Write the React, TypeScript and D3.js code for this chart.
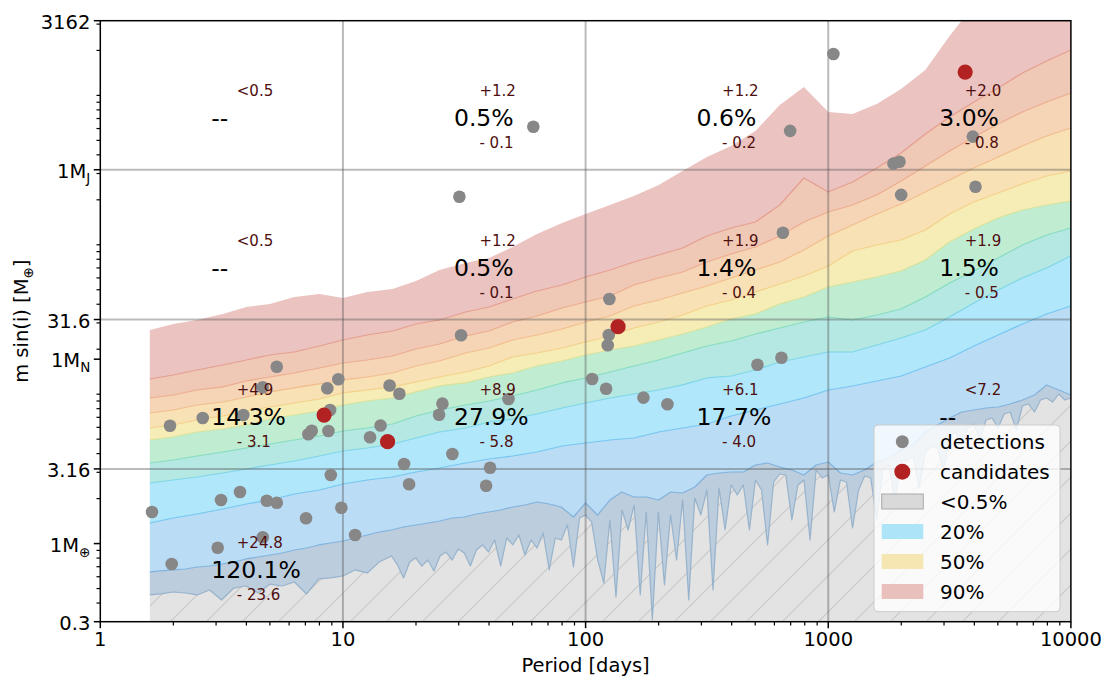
import React from "react";
import * as d3 from "d3";

// ---------- sampling grids (orbital period, days) ----------
const PERIOD_GRID = [1.6, 2, 2.5, 3.2, 4, 5, 6.3, 8, 10, 12.6, 16, 20, 25, 32, 40, 50, 63, 80, 100, 126, 158, 200, 251, 316, 398, 501, 631, 794, 1000, 1259, 1585, 1995, 2512, 3162, 3981, 5012, 6310, 7943, 10000];

const PERIOD_FINE = [1.6, 1.78, 2.0, 2.24, 2.51, 2.82, 3.16, 3.55, 3.98, 4.47, 5.01, 5.62, 6.31, 7.08, 7.94, 8.91,
  10, 11.2, 12.6, 14.1, 15.8, 17.8, 20, 22.4, 25.1, 28.2, 31.6, 35.5, 39.8, 44.7, 50.1, 56.2, 63.1, 70.8, 79.4, 89.1,
  100, 112, 126, 141, 158, 178, 200, 224, 251, 282, 316, 355, 398, 447, 501, 562, 631, 708, 794, 891,
  1000, 1122, 1259, 1413, 1585, 1778, 1995, 2239, 2512, 2818, 3162, 3548, 3981, 4467, 5012, 5623, 6310, 7079, 7943, 8913, 10000];

// denser sampling for the spiky 0.5 % contour
const PERIOD_EDGE = [1.6, 1.78, 2.0, 2.24, 2.51, 2.82, 3.16, 3.55, 3.98, 4.47, 5.01, 5.62, 6.31, 7.08, 7.94, 8.91, 10, 11.2, 12.6, 14.1,
  15.85, 16.79, 17.78, 18.84, 19.95, 21.13, 22.39, 23.71, 25.12, 26.61, 28.18, 29.85, 31.62, 33.50, 35.48, 37.58, 39.81, 42.17, 44.67, 47.32,
  50.12, 53.09, 56.23, 59.57, 63.10, 66.83, 70.79, 74.99, 79.43, 84.14, 89.13, 94.41,
  100, 105.9, 112.2, 118.9, 125.9, 133.4, 141.3, 149.6, 158.5, 167.9, 177.8, 188.4, 199.5, 211.3, 223.9, 237.1, 251.2, 266.1, 281.8, 298.5,
  316.2, 335.0, 354.8, 375.8, 398.1, 421.7, 446.7, 473.2, 501.2, 530.9, 562.3, 595.7, 631.0, 668.3, 707.9, 749.9, 794.3, 841.4, 891.3, 944.1,
  1000, 1059, 1122, 1189, 1259, 1334, 1413, 1496, 1585, 1679, 1778, 1884, 1995, 2113, 2239, 2371, 2512, 2661, 2818, 2985,
  3162, 3350, 3548, 3758, 3981, 4217, 4467, 4732, 5012, 5309, 5623, 5957, 6310, 6683, 7079, 7499, 7943, 8414, 8913, 9441, 10000];

// ---------- detection-probability contours (m sin i, Earth masses) ----------
// 0.5 % contour (PERIOD_EDGE)
const MASS_P005 = [0.453, 0.460, 0.474, 0.467, 0.453, 0.489, 0.419, 0.504, 0.520, 0.467,
  0.536, 0.520, 0.553, 0.460, 0.580, 0.589, 0.607, 0.666, 0.636, 0.752,
  0.826, 0.718, 0.589, 0.752, 0.801, 0.707, 0.776, 0.656, 0.826, 0.878,
  0.776, 0.920, 0.865, 0.707, 0.906, 0.979, 0.878, 1.057, 0.707, 1.090,
  0.979, 1.142, 0.839, 1.057, 0.934, 1.177, 0.666, 1.090, 1.057, 1.331,
  0.697, 1.483, 1.553, 1.394, 0.776, 0.544, 1.438, 0.439, 1.678, 1.233,
  1.812, 0.453, 1.627, 0.308, 1.627, 0.528, 1.553, 0.776, 1.957, 0.419,
  2.019, 1.553, 2.284, 0.489, 2.356, 1.233, 2.467, 2.115, 2.467, 1.233,
  2.665, 2.284, 0.979, 2.584, 2.923, 2.878, 1.438, 2.467, 2.665, 1.057,
  3.109, 2.748, 2.878, 1.627, 2.665, 2.584, 1.271, 2.284, 2.834, 2.748,
  1.438, 3.109, 3.358, 1.957, 3.517, 3.627, 3.857, 2.356, 4.102, 4.500,
  4.363, 3.109, 5.250, 5.583, 4.570, 5.939, 6.316, 4.936, 6.718, 6.928,
  5.939, 7.368, 7.599, 5.758, 8.336, 8.596, 7.599, 9.143, 9.432, 8.865,
  10.03, 9.143, 9.432];
// 10 % contour (PERIOD_FINE)
const MASS_P10 = [0.646, 0.656, 0.666, 0.676, 0.697, 0.708, 0.730, 0.752, 0.789, 0.813,
  0.839, 0.865, 0.906, 0.934, 0.979, 1.009, 1.041, 1.090, 1.142, 1.196,
  1.233, 1.291, 1.331, 1.373, 1.416, 1.483, 1.506, 1.578, 1.627, 1.678,
  1.757, 1.812, 1.898, 1.840, 1.757, 1.506, 1.869, 1.553, 1.957, 2.215,
  2.050, 2.050, 1.957, 2.215, 2.181, 2.392, 2.878, 2.968, 3.015, 3.015,
  3.358, 3.463, 3.256, 3.109, 2.878, 3.358, 3.517, 2.968, 2.878, 3.109,
  3.517, 3.740, 4.231, 4.570, 5.583, 6.220, 6.928, 7.599, 7.837, 8.082,
  8.208, 8.596, 9.143, 9.878, 11.53, 10.67, 9.878];
// 20 % ... 90 % contours and outer edge (PERIOD_GRID)
const MASS_P20 = [1.373, 1.483, 1.578, 1.704, 1.840, 1.957, 2.147, 2.284, 2.506, 2.665, 2.791, 3.015, 3.206, 3.463, 3.683, 3.857, 4.102, 4.500, 4.713, 4.936, 5.090, 5.583, 5.939, 6.316, 7.145, 7.837, 8.596, 9.432, 10.67, 11.35, 12.26, 13.24, 15.21, 17.47, 21.01, 24.89, 29.49, 34.41, 38.93];
const MASS_P30 = [2.545, 2.665, 2.791, 2.968, 3.157, 3.358, 3.571, 3.857, 4.166, 4.363, 4.641, 5.090, 5.583, 5.939, 6.514, 6.822, 7.368, 8.082, 8.730, 9.432, 10.03, 10.67, 11.53, 12.84, 13.24, 14.52, 16.43, 17.74, 19.16, 19.16, 21.34, 23.77, 26.89, 32.86, 40.77, 49.82, 59.94, 69.92, 84.13];
const MASS_P40 = [3.463, 3.627, 3.857, 4.102, 4.363, 4.641, 4.936, 5.250, 5.670, 5.939, 6.316, 7.145, 7.837, 8.465, 9.003, 9.728, 10.67, 11.89, 12.84, 14.08, 15.44, 16.94, 18.87, 21.01, 22.70, 25.28, 27.73, 30.42, 32.86, 31.37, 33.88, 37.17, 44.72, 55.49, 66.77, 81.58, 99.71, 116.3, 129.5];
const MASS_P50 = [4.936, 5.169, 5.583, 5.848, 6.220, 6.822, 7.256, 7.717, 8.465, 9.003, 9.432, 10.35, 11.35, 11.89, 13.03, 13.86, 15.44, 16.68, 18.29, 19.76, 21.01, 23.05, 25.28, 28.16, 31.86, 34.41, 40.15, 44.72, 52.17, 56.35, 60.87, 66.77, 79.10, 104.4, 127.5, 151.1, 170.9, 184.6, 196.3];
const MASS_P60 = [5.939, 6.220, 6.718, 7.145, 7.717, 8.208, 8.730, 9.288, 10.19, 10.67, 11.18, 12.07, 13.03, 14.08, 15.44, 17.74, 18.87, 20.38, 22.35, 24.52, 27.73, 30.42, 33.88, 38.93, 42.70, 48.31, 54.65, 61.82, 72.12, 90.87, 99.71, 107.7, 125.6, 160.7, 193.3, 222.1, 255.2, 288.6, 311.8];
const MASS_P70 = [7.483, 7.837, 8.465, 8.865, 9.578, 10.35, 11.01, 11.71, 12.45, 13.03, 13.86, 15.44, 16.68, 18.87, 20.38, 23.05, 24.89, 27.31, 30.42, 33.37, 38.93, 42.70, 47.57, 52.99, 59.94, 67.81, 76.70, 92.28, 114.5, 135.6, 160.7, 187.5, 225.5, 271.4, 326.5, 386.8, 458.3, 534.7, 604.9];
const MASS_P80 = [9.432, 9.878, 10.67, 11.18, 12.26, 13.03, 13.86, 14.97, 16.17, 16.94, 18.02, 20.07, 21.67, 24.52, 26.48, 30.42, 33.37, 37.75, 41.40, 45.42, 53.81, 59.94, 65.75, 76.70, 86.76, 96.68, 114.5, 142.0, 165.7, 184.6, 215.3, 267.2, 336.8, 424.3, 526.5, 643.4, 774.0, 903.0, 1038];
const MASS_P90 = [12.64, 13.44, 14.52, 15.68, 16.94, 18.29, 19.16, 21.01, 23.05, 24.89, 26.48, 29.49, 31.37, 35.49, 38.33, 43.37, 49.06, 53.81, 60.87, 67.81, 76.70, 85.43, 95.21, 114.5, 129.5, 142.0, 184.6, 279.9, 225.5, 263.2, 326.5, 411.4, 551.4, 716.6, 903.0, 1121, 1412, 1700, 2013];
const MASS_EDGE = [26.89, 29.49, 31.37, 34.41, 38.33, 40.15, 44.72, 46.84, 44.04, 48.31, 50.59, 57.23, 67.81, 75.53, 81.58, 96.68, 118.1, 139.9, 160.7, 184.6, 212.1, 251.3, 311.8, 386.8, 458.3, 577.5, 862.2, 1138, 774.0, 750.6, 875.6, 1104, 1479, 2498, 4028, 5000, 6000, 7000, 8000];

// ---------- planets ----------
const DETECT_PERIOD = [1.633, 1.969, 1.938, 2.643, 3.144, 3.047, 3.765, 3.886, 4.671, 4.671, 4.852, 5.335, 5.335, 7.045, 7.20, 7.437, 8.62, 8.71, 8.85, 8.91, 9.57, 9.85, 11.22, 12.93, 14.29, 15.57, 17.08, 17.86, 18.73, 24.9, 25.7, 28.25, 30.19, 30.68, 38.9, 40.4, 48.1, 60.9, 106.4, 121.5, 123.4, 124.6, 125.3, 173.1, 217.4, 510.7, 641.4, 650, 696.6, 1050, 1856, 1966, 1998, 3945, 4044];
const DETECT_MASS = [1.627, 0.730, 6.15, 6.93, 1.957, 0.938, 2.214, 7.25, 11.12, 1.102, 1.936, 1.877, 15.27, 1.476, 5.39, 5.69, 10.95, 5.67, 7.84, 2.877, 12.58, 1.739, 1.141, 5.145, 6.17, 11.43, 10.07, 3.41, 2.494, 7.29, 8.64, 3.98, 209.8, 24.8, 2.44, 3.22, 9.28, 617, 12.64, 10.88, 21.24, 24.9, 43.4, 9.49, 8.57, 15.73, 17.52, 120.4, 579, 1892, 349.4, 359.8, 215.8, 530, 244.4];
const CAND_PERIOD = [8.36, 15.27, 136.1, 3667];
const CAND_MASS = [7.25, 4.81, 28.3, 1432];

// ---------- axes ----------
const X_TICKS = [1, 10, 100, 1000, 10000];
const Y_TICKS = [0.3, 1, 3.16, 17.15, 31.6, 317.8, 3162];
const Y_TICK_TEXT = [["0.3", ""], ["1M", "\u2295"], ["3.16", ""], ["1M", "N"], ["31.6", ""], ["1M", "J"], ["3162", ""]];
const GRID_PERIODS = [10, 100, 1000];
const GRID_MASSES = [3.16, 31.6, 317.8];

// ---------- occurrence rates per period/mass cell ----------
const RATE_DECADES = [1, 10, 100, 1000];
const RATE_ROW_FLOORS = [0.3, 3.16, 31.6, 317.8];
// [column, row, rate, upper error, lower error]
const RATE_CELLS: [number, number, string, string, string][] = [
  [0, 0, "120.1%", "+24.8", "- 23.6"],
  [0, 1, "14.3%", "+4.9", "- 3.1"],
  [0, 2, "--", "<0.5", ""],
  [0, 3, "--", "<0.5", ""],
  [1, 1, "27.9%", "+8.9", "- 5.8"],
  [1, 2, "0.5%", "+1.2", "- 0.1"],
  [1, 3, "0.5%", "+1.2", "- 0.1"],
  [2, 1, "17.7%", "+6.1", "- 4.0"],
  [2, 2, "1.4%", "+1.9", "- 0.4"],
  [2, 3, "0.6%", "+1.2", "- 0.2"],
  [3, 1, "--", "<7.2", ""],
  [3, 2, "1.5%", "+1.9", "- 0.5"],
  [3, 3, "3.0%", "+2.0", "- 0.8"],
];

const LEGEND_LABELS = ["detections", "candidates", "<0.5%", "20%", "50%", "90%"];

const W = 1106;
const H = 677;
const PLOT = { left: 100.3, right: 1070.9, top: 20.7, bottom: 621.7 };
const FONT = "DejaVu Sans, Verdana, sans-serif";

export default function App() {
  const x = d3.scaleLog().domain([1, 10000]).range([PLOT.left, PLOT.right]);
  const y = d3.scaleLog().domain([0.3, 3162]).range([PLOT.bottom, PLOT.top]);

  const pts = (ps: number[], ms: number[]): [number, number][] =>
    ps.map((p, i) => [x(p), y(ms[i])] as [number, number]);
  const line = d3.line();

  const c005 = pts(PERIOD_EDGE, MASS_P005);
  const c10 = pts(PERIOD_FINE, MASS_P10);
  const coarse = [MASS_P20, MASS_P30, MASS_P40, MASS_P50, MASS_P60, MASS_P70, MASS_P80, MASS_P90, MASS_EDGE].map((m) =>
    pts(PERIOD_GRID, m)
  );
  const [c20, c30, c40, c50, c60, c70, c80, c90, cEdge] = coarse;

  const band = (lower: [number, number][], upper: [number, number][]) =>
    (line([...upper, ...lower.slice().reverse()]) as string) + "Z";

  const bands = [
    { lo: c005, hi: c10, fill: "#bccddd" },
    { lo: c10, hi: c20, fill: "#badcf5" },
    { lo: c20, hi: c30, fill: "#b1e7fb" },
    { lo: c30, hi: c40, fill: "#b5e8e2" },
    { lo: c40, hi: c50, fill: "#c0ecd2" },
    { lo: c50, hi: c60, fill: "#f6ecb6" },
    { lo: c60, hi: c70, fill: "#f8e1b4" },
    { lo: c70, hi: c80, fill: "#f5d5b6" },
    { lo: c80, hi: c90, fill: "#f0c9b6" },
    { lo: c90, hi: cEdge, fill: "#ebc3c0" },
  ];
  const edges = [
    { p: c005, stroke: "#88a9c6" },
    { p: c10, stroke: "#6fa8d8" },
    { p: c20, stroke: "#62bdef" },
    { p: c30, stroke: "#6cd0e6" },
    { p: c40, stroke: "#74d7b8" },
    { p: c50, stroke: "#cfe08e" },
    { p: c60, stroke: "#f2cb7a" },
    { p: c70, stroke: "#f0b47e" },
    { p: c80, stroke: "#eaa07f" },
    { p: c90, stroke: "#e2917f" },
  ];

  const floorY = y(0.3);
  const greyPath =
    (line(c005) as string) +
    `L${x(PERIOD_EDGE[PERIOD_EDGE.length - 1])},${floorY}L${x(PERIOD_EDGE[0])},${floorY}Z`;

  const xMinor = x.ticks().filter((t) => !X_TICKS.includes(t));
  const yMinor = y.ticks().filter((t) => !Y_TICKS.some((m) => Math.abs(m - t) / t < 1e-6));

  const tickFs = 19.5;
  const bigFs = 23.5;
  const smallFs = 15;
  const errColor = "#4f0f0f";

  return (
    <svg
      width={W}
      height={H}
      style={{ position: "absolute", left: 0, top: 0, display: "block" }}
      fontFamily={FONT}
    >
      <defs>
        <clipPath id="plotClip">
          <rect x={PLOT.left} y={PLOT.top} width={PLOT.right - PLOT.left} height={PLOT.bottom - PLOT.top} />
        </clipPath>
        <pattern id="hatch" patternUnits="userSpaceOnUse" width="36" height="36">
          <path d="M-9,9L9,-9M0,36L36,0M27,45L45,27" stroke="#c7c7c7" strokeWidth="1.1" />
        </pattern>
      </defs>
      <rect x={0} y={0} width={W} height={H} fill="#ffffff" />

      <g clipPath="url(#plotClip)">
        {/* region below the 0.5 % sensitivity contour */}
        <path d={greyPath} fill="#e3e3e3" />
        <path d={greyPath} fill="url(#hatch)" />
        {bands.map((b, i) => (
          <path key={"b" + i} d={band(b.lo, b.hi)} fill={b.fill} />
        ))}
        {edges.map((e, i) => (
          <path
            key={"e" + i}
            d={line(e.p) as string}
            fill="none"
            stroke={e.stroke}
            strokeOpacity={0.8}
            strokeWidth={1.2}
            strokeLinejoin="round"
          />
        ))}

        {/* grid */}
        {GRID_PERIODS.map((p) => (
          <line key={"gx" + p} x1={x(p)} x2={x(p)} y1={PLOT.top} y2={PLOT.bottom} stroke="#555" strokeOpacity={0.4} strokeWidth={2} />
        ))}
        {GRID_MASSES.map((m) => (
          <line key={"gy" + m} x1={PLOT.left} x2={PLOT.right} y1={y(m)} y2={y(m)} stroke="#555" strokeOpacity={0.4} strokeWidth={2} />
        ))}

        {/* planets */}
        {DETECT_PERIOD.map((p, i) => (
          <circle key={"d" + i} cx={x(p)} cy={y(DETECT_MASS[i])} r={6.3} fill="#878787" />
        ))}
        {CAND_PERIOD.map((p, i) => (
          <circle key={"c" + i} cx={x(p)} cy={y(CAND_MASS[i])} r={7.6} fill="#b22222" />
        ))}
      </g>

      {/* occurrence rates */}
      {RATE_CELLS.map(([c, r, rate, up, down], i) => {
        const x0 = x(RATE_DECADES[c]);
        const yFloor = y(RATE_ROW_FLOORS[r]);
        return (
          <g key={"rate" + i}>
            <text x={x0 + 111} y={yFloor - 43.5} fontSize={bigFs} fill="#000">
              {rate}
            </text>
            <text x={x0 + 136.5} y={yFloor - 73.5} fontSize={smallFs} fill={errColor}>
              {up}
            </text>
            {down && (
              <text x={x0 + 136.5} y={yFloor - 21.5} fontSize={smallFs} fill={errColor}>
                {down}
              </text>
            )}
          </g>
        );
      })}

      {/* axes frame */}
      <rect
        x={PLOT.left}
        y={PLOT.top}
        width={PLOT.right - PLOT.left}
        height={PLOT.bottom - PLOT.top}
        fill="none"
        stroke="#000"
        strokeWidth={1.5}
      />

      {/* x axis */}
      {X_TICKS.map((t) => (
        <g key={"xt" + t}>
          <line x1={x(t)} x2={x(t)} y1={PLOT.bottom} y2={PLOT.bottom + 6.5} stroke="#000" strokeWidth={1.5} />
          <text x={x(t)} y={PLOT.bottom + 24} fontSize={tickFs} textAnchor="middle">
            {String(t)}
          </text>
        </g>
      ))}
      {xMinor.map((t) => (
        <line key={"xm" + t} x1={x(t)} x2={x(t)} y1={PLOT.bottom} y2={PLOT.bottom + 3.8} stroke="#000" strokeWidth={1.2} />
      ))}
      <text x={(PLOT.left + PLOT.right) / 2} y={672} fontSize={tickFs} textAnchor="middle">
        Period [days]
      </text>

      {/* y axis */}
      {Y_TICKS.map((t, i) => (
        <g key={"yt" + t}>
          <line x1={PLOT.left - 6.5} x2={PLOT.left} y1={y(t)} y2={y(t)} stroke="#000" strokeWidth={1.5} />
          <text x={PLOT.left - 10} y={y(t) + 8} fontSize={tickFs} textAnchor="end">
            {Y_TICK_TEXT[i][0]}
            {Y_TICK_TEXT[i][1] && (
              <tspan fontSize={13.5} dy={5}>
                {Y_TICK_TEXT[i][1]}
              </tspan>
            )}
          </text>
        </g>
      ))}
      {yMinor.map((t) => (
        <line key={"ym" + t} x1={PLOT.left - 3.8} x2={PLOT.left} y1={y(t)} y2={y(t)} stroke="#000" strokeWidth={1.2} />
      ))}
      <text
        transform={`translate(28,${(PLOT.top + PLOT.bottom) / 2}) rotate(-90)`}
        fontSize={tickFs}
        textAnchor="middle"
      >
        m sin(i) [M
        <tspan fontSize={13.5} dy={5}>
          {"\u2295"}
        </tspan>
        <tspan dy={-5}>]</tspan>
      </text>

      {/* legend */}
      <g>
        <rect x={874} y={425} width={186} height={186.7} rx={4} fill="#ffffff" fillOpacity={0.8} stroke="#cccccc" strokeWidth={1} />
        <circle cx={902.3} cy={441.7} r={6.5} fill="#878787" />
        <circle cx={902.3} cy={471.7} r={8} fill="#b22222" />
        <rect x={881.7} y={494} width={41.6} height={15} fill="#d9d9d9" stroke="#a9a9a9" strokeWidth={1} />
        <rect x={881.7} y={524} width={41.6} height={15} fill="#ade4f8" />
        <rect x={881.7} y={554} width={41.6} height={15} fill="#f5e6b2" />
        <rect x={881.7} y={584} width={41.6} height={15} fill="#eac0bd" />
        {LEGEND_LABELS.map((l, i) => (
          <text key={"lg" + i} x={940} y={449 + i * 30} fontSize={20}>
            {l}
          </text>
        ))}
      </g>
    </svg>
  );
}
